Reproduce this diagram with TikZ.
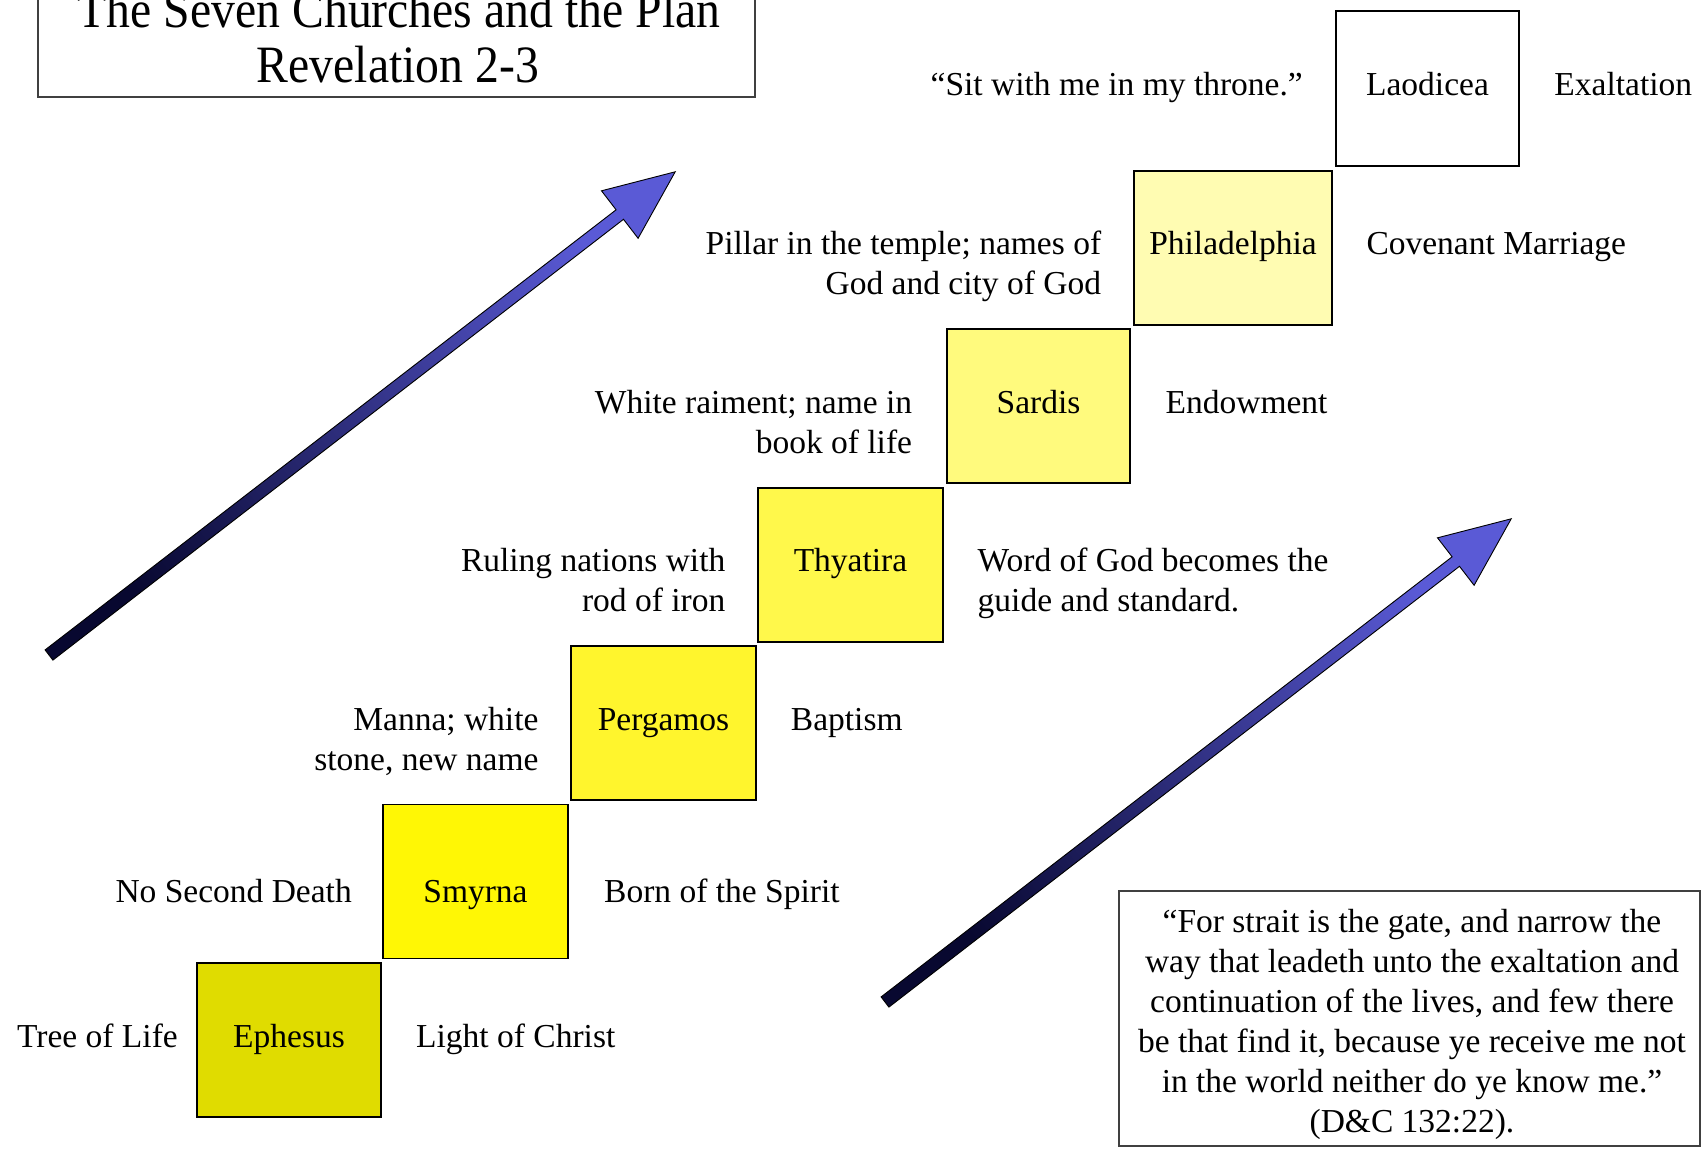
\documentclass[tikz,border=0pt]{standalone}
\usepackage{graphicx}
\usepackage{fontspec}
\setmainfont{Liberation Serif}
\definecolor{cEph}{RGB}{224,220,0}
\definecolor{cSmy}{RGB}{255,247,5}
\definecolor{cPer}{RGB}{255,245,45}
\definecolor{cThy}{RGB}{255,248,75}
\definecolor{cSar}{RGB}{255,250,125}
\definecolor{cPhi}{RGB}{255,252,178}
\definecolor{arrowdark}{RGB}{8,8,48}
\definecolor{arrowlight}{RGB}{90,90,214}
\tikzset{
  church/.style={draw=black, line width=1.6pt, minimum height=154pt, inner sep=0pt},
  lbl/.style={inner sep=0pt, font=\fontsize{33.5}{40}\selectfont},
  cname/.style={lbl, anchor=base},
  lblL/.style={lbl, anchor=base east, align=right},
  lblR/.style={lbl, anchor=base west, align=left},
  frame/.style={draw=black!75, line width=1.1pt, inner sep=0pt},
  titletext/.style={inner sep=0pt, anchor=base, font=\fontsize{47.7}{55}\selectfont},
  bigarrow/.style={draw=black, line width=0.9pt, top color=arrowlight, bottom color=arrowdark, shading angle=-52.35}
}
\begin{document}
\begin{tikzpicture}[x=1pt,y=-1pt]
\useasboundingbox (0,0) rectangle (1703,1152);
\fill[white] (0,0) rectangle (1703,1152);

% title
\node[frame, minimum width=717pt, minimum height=117pt] (titlebox) at (396.5,38.5) {};
\node[titletext] (title1) at (399,27) {\scalebox{1}[1.1]{The Seven Churches and the Plan}};
\node[titletext] (title2) at (398,82) {\scalebox{1}[1.1]{Revelation 2-3}};

% arrows
\begin{scope}[shift={(49,655)}]
\shade[bigarrow] (-3.9,-5.1) -- (567.1,-445.2) -- (552.5,-464.2) -- (626.2,-483.2) -- (589.1,-416.7) -- (574.5,-435.7) -- (3.9,5.1) -- cycle;
\end{scope}
\begin{scope}[shift={(885,1002)}]
\shade[bigarrow] (-3.9,-5.1) -- (567.1,-445.2) -- (552.5,-464.2) -- (626.2,-483.2) -- (589.1,-416.7) -- (574.5,-435.7) -- (3.9,5.1) -- cycle;
\end{scope}

% church boxes
\node[church, fill=cEph, minimum width=184pt] (eph) at (289,1040) {};
\node[church, fill=cSmy, minimum width=185pt] (smy) at (475.5,881.5) {};
\node[church, fill=cPer, minimum width=185pt] (per) at (663.5,723) {};
\node[church, fill=cThy, minimum width=185pt] (thy) at (850.5,565) {};
\node[church, fill=cSar, minimum width=183pt] (sar) at (1038.5,406) {};
\node[church, fill=cPhi, minimum width=198pt] (phi) at (1233,248) {};
\node[church, fill=white, minimum width=183pt, minimum height=155pt] (lao) at (1427.5,88.5) {};

\node[cname] (ephT) at (289,1047) {Ephesus};
\node[cname] (smyT) at (475.5,902.7) {Smyrna};
\node[cname] (perT) at (663.5,730) {Pergamos};
\node[cname] (thyT) at (850.5,571.5) {Thyatira};
\node[cname] (sarT) at (1038.5,413) {Sardis};
\node[cname] (phiT) at (1233,254) {Philadelphia};
\node[cname] (laoT) at (1427.5,95.5) {Laodicea};

% left labels (anchor = baseline of last line)
\node[lblL] (l1) at (178,1047) {Tree of Life};
\node[lblL] (l2) at (352,902.7) {No Second Death};
\node[lblL] (l3) at (538.7,770) {Manna; white\\stone, new name};
\node[lblL] (l4) at (725.5,611.5) {Ruling nations with\\rod of iron};
\node[lblL] (l5) at (912.3,453) {White raiment; name in\\book of life};
\node[lblL] (l6) at (1101.3,294) {Pillar in the temple; names of\\God and city of God};
\node[lblL] (l7) at (1303,95.5) {“Sit with me in my throne.”};

% right labels
\node[lblR] (r1) at (416,1047) {Light of Christ};
\node[lblR] (r2) at (604,902.7) {Born of the Spirit};
\node[lblR] (r3) at (790.7,730) {Baptism};
\node[lblR] (r4) at (977.5,611.5) {Word of God becomes the\\guide and standard.};
\node[lblR] (r5) at (1165.4,413) {Endowment};
\node[lblR] (r6) at (1366.3,254) {Covenant Marriage};
\node[lblR] (r7) at (1554.2,95.5) {Exaltation};

% quote
\node[frame, minimum width=581pt, minimum height=255pt] (quotebox) at (1409.5,1018.5) {};
\node[lbl, anchor=base, align=center] (quote) at (1412,1132) {“For strait is the gate, and narrow the\\way that leadeth unto the exaltation and\\continuation of the lives, and few there\\be that find it, because ye receive me not\\in the world neither do ye know me.”\\(D\&C 132:22).};
\end{tikzpicture}
\end{document}
